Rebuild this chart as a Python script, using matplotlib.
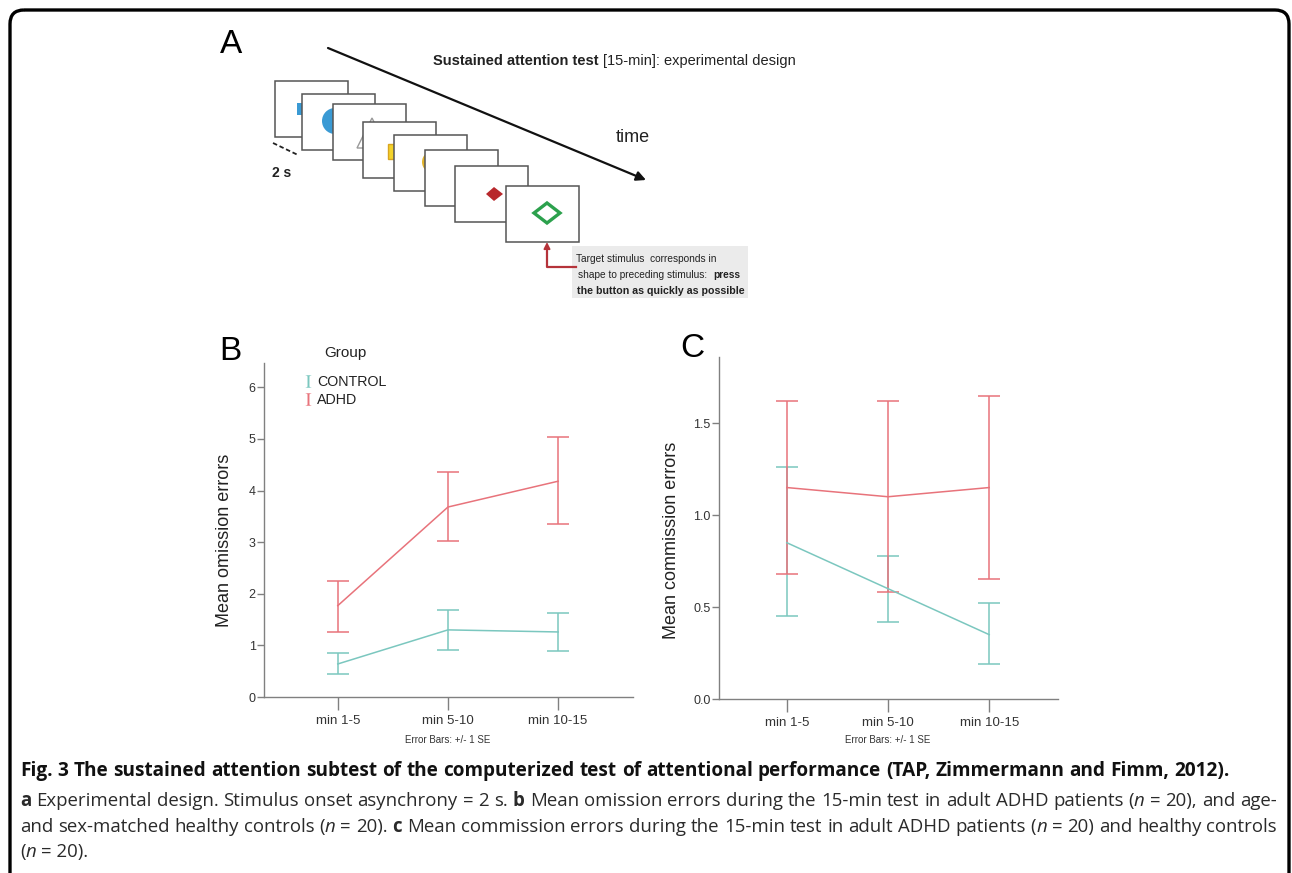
import re
import numpy as np
import matplotlib
matplotlib.use('Agg')
import matplotlib.pyplot as plt
from matplotlib.patches import FancyBboxPatch, Rectangle, Circle, Polygon
from matplotlib.lines import Line2D
from matplotlib.ticker import FormatStrFormatter

plt.rcParams['font.family'] = ['Liberation Sans', 'DejaVu Sans']
plt.rcParams['mathtext.fontset'] = 'stix'

W, H = 1292, 873

periods = ['min 1-5', 'min 5-10', 'min 10-15']
groups = ['CONTROL', 'ADHD']

# panel B: mean omission errors, +/- 1 SE
omission_control = [0.64, 1.30, 1.26]
omission_control_lo = [0.45, 0.91, 0.90]
omission_control_hi = [0.85, 1.69, 1.62]
omission_adhd = [1.77, 3.68, 4.18]
omission_adhd_lo = [1.25, 3.02, 3.35]
omission_adhd_hi = [2.24, 4.35, 5.04]

# panel C: mean commission errors, +/- 1 SE
commission_control = [0.85, 0.60, 0.35]
commission_control_lo = [0.45, 0.42, 0.19]
commission_control_hi = [1.26, 0.78, 0.52]
commission_adhd = [1.15, 1.10, 1.15]
commission_adhd_lo = [0.68, 0.58, 0.65]
commission_adhd_hi = [1.62, 1.62, 1.65]

caption_title = ("Fig. 3 The sustained attention subtest of the computerized test of "
                 "attentional performance (TAP, Zimmermann and Fimm, 2012).")
caption_lines = [
    "<b>a</b> Experimental design. Stimulus onset asynchrony = 2 s. <b>b</b> Mean omission errors "
    "during the 15-min test in adult ADHD patients (<i>n</i> = 20), and age-",
    "and sex-matched healthy controls (<i>n</i> = 20). <b>c</b> Mean commission errors during the "
    "15-min test in adult ADHD patients (<i>n</i> = 20) and healthy controls",
    "(<i>n</i> = 20).",
]

c_control = '#7bc7bf'
c_adhd = '#e8737b'
axis_grey = '#808080'

fig = plt.figure(figsize=(W / 100, H / 100), dpi=100)
bg = fig.add_axes([0, 0, 1, 1], zorder=0)
bg.set_xlim(0, W)
bg.set_ylim(H, 0)
bg.axis('off')
renderer = fig.canvas.get_renderer()


def split_tags(s, base_kw):
    out = []
    for part in re.split(r'(<[bi]>.*?</[bi]>)', s):
        if not part:
            continue
        m = re.match(r'<([bi])>(.*?)</\1>', part)
        kw = dict(base_kw)
        if m:
            if m.group(1) == 'b':
                kw['fontweight'] = 'bold'
            else:
                kw['fontstyle'] = 'italic'
            out.append((m.group(2), kw))
        else:
            out.append((part, kw))
    return out


def measure(txt, size, kw):
    t = bg.text(0, 0, txt, fontsize=size, **kw)
    w = t.get_window_extent(renderer=renderer).width
    t.remove()
    return w


def space_width(size, kw):
    return measure('x x', size, kw) - measure('xx', size, kw)


def line_width(line, size, base_kw):
    words = [split_tags(w, base_kw) for w in line.split(' ')]
    total = sum(measure(p[0], size, p[1]) for wd in words for p in wd)
    return total + space_width(size, base_kw) * (len(words) - 1)


def draw_runs(x, y, line, size, base_kw, color):
    # mixed-style text on one line, spaces kept inside each run
    sp = space_width(size, base_kw)
    for txt, kw in split_tags(line, base_kw):
        core = txt.strip(' ')
        lead = len(txt) - len(txt.lstrip(' '))
        trail = len(txt) - len(txt.rstrip(' '))
        x += lead * sp
        if core:
            bg.text(x, y, core, fontsize=size, color=color, va='baseline', ha='left', **kw)
            x += measure(core, size, kw)
        x += trail * sp


def draw_justified(x, y, line, size, base_kw, color, width):
    words = [split_tags(w, base_kw) for w in line.split(' ')]
    wws = [[measure(p[0], size, p[1]) for p in wd] for wd in words]
    sp = (width - sum(sum(a) for a in wws)) / (len(words) - 1)
    for wd, ww in zip(words, wws):
        for (txt, kw), w in zip(wd, ww):
            bg.text(x, y, txt, fontsize=size, color=color, va='baseline', ha='left', **kw)
            x += w
        x += sp


# outer frame
bg.add_patch(FancyBboxPatch((10, 10), 1279, 900, boxstyle='round,pad=0,rounding_size=14',
                            fill=False, lw=2.4, ec='black', clip_on=False))

# ---- panel A: stimulus sequence sketch ----
bg.text(231, 53, 'A', fontsize=24, ha='center', va='baseline')
cards = [(275, 81), (302, 94), (333, 104), (363, 122), (394, 135), (425, 150), (455, 166), (506, 186)]
z = 2
for i, (cx, cy) in enumerate(cards):
    bg.add_patch(Rectangle((cx, cy), 73, 56, fc='white', ec='#555555', lw=1.1, zorder=z))
    z += 1
    if i == 0:
        bg.add_patch(Rectangle((297, 103), 10, 12, fc='#3a9ad4', ec='none', zorder=z))
    elif i == 1:
        bg.add_patch(Circle((335, 121), 13, fc='#3a9ad4', ec='none', zorder=z))
    elif i == 2:
        bg.add_patch(Polygon([(372, 118), (357, 148), (387, 148)], closed=True, fill=False,
                             ec='#9a9a9a', lw=1.0, zorder=z))
    elif i == 3:
        bg.add_patch(Rectangle((388, 144), 15, 15, fc='#f4d32a', ec='#d9a520', lw=1, zorder=z))
    elif i == 4:
        bg.add_patch(Circle((433, 162), 11, fc='#e3b52c', ec='none', zorder=z))
    elif i == 6:
        bg.add_patch(Polygon([(486, 194), (494, 187), (503, 194), (494, 201)], closed=True,
                             fc='#b8282c', ec='none', zorder=z))
    elif i == 7:
        bg.add_patch(Polygon([(534, 213), (547, 203), (560, 213), (547, 223)], closed=True,
                             fill=False, ec='#2ca14d', lw=2.4, zorder=z))
    z += 1

bg.plot([273, 298], [143, 155], color='#222222', lw=1.3, ls=(0, (2.5, 1.5)))
bg.text(272, 177, '2 s', fontsize=10, fontweight='bold', va='baseline', color='#222222')

bg.annotate('', xy=(646, 180), xytext=(328, 48),
            arrowprops=dict(arrowstyle='-|>', color='#111111', lw=1.6, mutation_scale=14,
                            shrinkA=0, shrinkB=0))
draw_runs(433, 65, '<b>Sustained attention test</b> [15-min]: experimental design', 10.5, {}, '#222222')
bg.text(633, 142, 'time', fontsize=13, ha='center', va='baseline', color='#222222')

bg.add_patch(Rectangle((572, 246), 176, 52, fc='#ebebeb', ec='none', zorder=1))
bg.plot([576, 547, 547], [267, 267, 252], color='#b5333a', lw=1.6, zorder=3)
bg.annotate('', xy=(547, 242), xytext=(547, 256),
            arrowprops=dict(arrowstyle='-|>', color='#b5333a', lw=1.4, mutation_scale=9,
                            shrinkA=0, shrinkB=0))
draw_runs(576, 262, 'Target stimulus  corresponds in', 7.3, {}, '#222222')
draw_runs(578, 278, 'shape to preceding stimulus:  <b>press</b>', 7.3, {}, '#222222')
draw_runs(577, 294, '<b>the button as quickly as possible</b>', 7.7, {}, '#222222')


# ---- panels B and C ----
def panel(rect, ylim, yticks, fmt, ylabel, lab_x, lab_y, ctrl, ctrl_lo, ctrl_hi, adhd, adhd_lo, adhd_hi):
    l, t, r, b = rect
    ax = fig.add_axes([l / W, 1 - b / H, (r - l) / W, (b - t) / H], zorder=2)
    ax.patch.set_alpha(0)
    x = np.arange(1, len(periods) + 1)
    for m, lo, hi, c in [(ctrl, ctrl_lo, ctrl_hi, c_control), (adhd, adhd_lo, adhd_hi, c_adhd)]:
        m = np.array(m)
        err = [m - np.array(lo), np.array(hi) - m]
        ax.errorbar(x, m, yerr=err, color=c, lw=1.1, elinewidth=1.1, capsize=8, capthick=1.1)
    ax.set_xlim(0.33, 3.68)
    ax.set_ylim(*ylim)
    ax.set_yticks(yticks)
    ax.yaxis.set_major_formatter(FormatStrFormatter(fmt))
    ax.set_xticks(x)
    ax.set_xticklabels(periods)
    for s in ['top', 'right']:
        ax.spines[s].set_visible(False)
    for s in ['left', 'bottom']:
        ax.spines[s].set_color(axis_grey)
        ax.spines[s].set_linewidth(1.0)
    ax.tick_params(axis='y', length=5, width=1, color=axis_grey, labelsize=9, pad=1, labelcolor='#333333')
    ax.tick_params(axis='x', length=9, width=1, color=axis_grey, labelsize=9.5, pad=4, labelcolor='#333333')
    ax.set_ylabel(ylabel, fontsize=13, color='#222222')
    ax.yaxis.set_label_coords(lab_x, lab_y)
    return ax


axB = panel((264, 363, 633, 697), (0, 6.47), range(0, 7), '%d', 'Mean omission errors', -0.085, 0.47,
            omission_control, omission_control_lo, omission_control_hi,
            omission_adhd, omission_adhd_lo, omission_adhd_hi)
axC = panel((719, 357, 1058, 699), (0, 1.86), [0, 0.5, 1.0, 1.5], '%.1f', 'Mean commission errors',
            -0.115, 0.465,
            commission_control, commission_control_lo, commission_control_hi,
            commission_adhd, commission_adhd_lo, commission_adhd_hi)

bg.text(230, 360, 'B', fontsize=24, ha='center', va='baseline')
bg.text(692, 357, 'C', fontsize=24, ha='center', va='baseline')
bg.text(448, 740, 'Error Bars: +/- 1 SE', fontsize=7, ha='center', va='center', color='#333333')
bg.text(888, 740, 'Error Bars: +/- 1 SE', fontsize=7, ha='center', va='center', color='#333333')

bg.text(345, 357, 'Group', fontsize=11, ha='center', va='baseline', color='#222222')
handles = [Line2D([], [], color=c, marker=r'$\mathrm{I}$', ms=9, ls='none', mew=0)
           for c in (c_control, c_adhd)]
leg = axB.legend(handles, groups, loc='upper left',
                 bbox_to_anchor=(297 / W, 1 - 368 / H), bbox_transform=fig.transFigure,
                 frameon=False, fontsize=10.3, handlelength=0.6,
                 handletextpad=0.3, labelspacing=0.3, borderpad=0)
for t in leg.get_texts():
    t.set_color('#222222')

# ---- caption ----
cap_font = {'family': ['Open Sans', 'DejaVu Sans']}
bold_kw = dict(cap_font, fontweight='bold')
x0 = 20
tw = 1230 - x0
bw = 1277 - x0
tsize = 10 * tw / line_width(caption_title, 10, bold_kw)
draw_justified(x0, 776, caption_title, tsize, bold_kw, '#111111', tw)
natural = max(line_width(caption_lines[0], 10, cap_font), line_width(caption_lines[1], 10, cap_font))
bsize = 10 * bw / natural
draw_justified(x0, 806, caption_lines[0], bsize, cap_font, '#2a2a2a', bw)
draw_justified(x0, 832, caption_lines[1], bsize, cap_font, '#2a2a2a', bw)
draw_runs(x0, 857, caption_lines[2], bsize, cap_font, '#2a2a2a')

fig.savefig('out.png', dpi=100)
